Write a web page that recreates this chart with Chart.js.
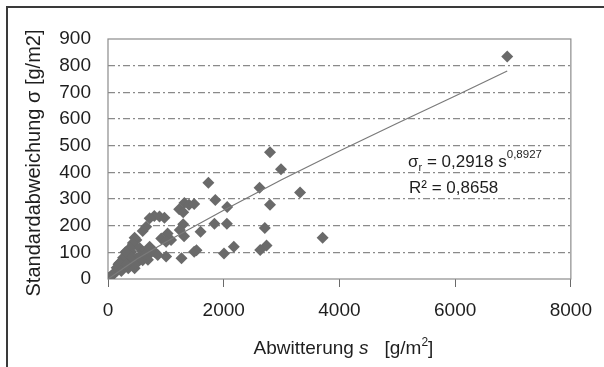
<!DOCTYPE html>
<html>
<head>
<meta charset="utf-8">
<script src="https://cdn.jsdelivr.net/npm/chart.js@4.4.0/dist/chart.umd.min.js"></script>
<style>
  html, body { margin: 0; padding: 0; background: #ffffff; }
  #wrap { position: relative; width: 604px; height: 367px; }
</style>
</head>
<body>
<div id="wrap"><canvas id="c" width="604" height="367"></canvas></div>
<script>
// Measured points: Abwitterung s [g/m²] and Standardabweichung σ [g/m²]
const abwitterung = [
  6900, 2800, 2990, 2620, 3320, 2800, 2710, 3710, 2740, 2630,
  1735, 1855, 2060, 1840, 2055, 2005, 2175, 1600, 1490, 1530,
  1270, 1005, 1230, 1320, 1400, 1490, 1300, 1300, 1315, 1240,
  800, 890, 975, 720, 660, 600, 1030, 920, 1090, 1005,
  490, 430, 550, 400, 600, 490, 720, 800, 860, 400,
  460, 350, 690, 460, 430, 380, 330,
  300, 250, 330, 280, 220, 200, 180, 150, 120, 100,
  80, 60, 40, 20, 10, 0, 350, 380, 260, 300,
  200, 150, 230, 320, 420, 500, 550, 600, 650, 700
];
const standardabweichung = [
  834, 475, 412, 342, 324, 278, 191, 155, 126, 109,
  361, 296, 270, 207, 207, 96, 121, 177, 102, 108,
  78, 84, 262, 285, 278, 281, 250, 205, 160, 184,
  236, 234, 230, 228, 196, 180, 171, 152, 146, 140,
  146, 128, 115, 102, 102, 78, 121, 102, 90, 59,
  40, 40, 72, 155, 135, 115, 105,
  75, 62, 90, 50, 45, 38, 55, 30, 25, 20,
  15, 12, 8, 5, 3, 2, 70, 85, 80, 100,
  60, 42, 30, 55, 80, 60, 85, 70, 95, 90
];
// Trend line
const trendS = [0, 500, 1000, 2000, 3000, 4000, 5000, 6000, 6900];
const trendSigma = [0, 75, 139, 258, 372, 480, 584, 686, 780];
const xTicks = [0, 2000, 4000, 6000, 8000];
const yTicks = [0, 100, 200, 300, 400, 500, 600, 700, 800, 900];

const FONT = "'Liberation Sans', Arial, Helvetica, sans-serif";
const TXT = '#1e1e1e';

const points = abwitterung.map((s, i) => ({ x: s, y: standardabweichung[i] }));
const trend = trendS.map((s, i) => ({ x: s, y: trendSigma[i] }));

const decor = {
  id: 'decor',
  beforeDraw(chart) {
    const ctx = chart.ctx;
    ctx.save();
    ctx.fillStyle = '#ffffff';
    ctx.fillRect(0, 0, chart.width, chart.height);
    ctx.fillStyle = '#3a3a3a';
    ctx.fillRect(6, 6, 2, chart.height - 6);
    ctx.fillRect(6, 6, chart.width - 6, 2);
    ctx.restore();
  },
  beforeDatasetsDraw(chart) {
    const a = chart.chartArea;
    const ctx = chart.ctx;
    ctx.save();
    ctx.strokeStyle = '#8c8c8c';
    ctx.lineWidth = 1.2;
    ctx.strokeRect(a.left, a.top, a.right - a.left, a.bottom - a.top);
    ctx.restore();
  },
  afterDraw(chart) {
    const ctx = chart.ctx;
    const a = chart.chartArea;
    ctx.save();
    ctx.fillStyle = TXT;
    ctx.textBaseline = 'alphabetic';
    // Y title
    ctx.save();
    ctx.translate(40, 163);
    ctx.rotate(-Math.PI / 2);
    ctx.font = '20px ' + FONT;
    ctx.textAlign = 'center';
    ctx.fillText('Standardabweichung σ [g/m2]', 0, 0);
    ctx.restore();
    // X title with italic s and superscript 2
    const parts = [
      { t: 'Abwitterung ', f: '19px ' + FONT, dy: 0 },
      { t: 's', f: 'italic 19px ' + FONT, dy: 0 },
      { t: '   [g/m', f: '19px ' + FONT, dy: 0 },
      { t: '2', f: '12px ' + FONT, dy: -8 },
      { t: ']', f: '19px ' + FONT, dy: 0 }
    ];
    let total = 0;
    parts.forEach(p => { ctx.font = p.f; p.w = ctx.measureText(p.t).width; total += p.w; });
    let x = (a.left + a.right) / 2 + 4 - total / 2;
    const by = 354;
    ctx.textAlign = 'left';
    parts.forEach(p => { ctx.font = p.f; ctx.fillText(p.t, x, by + p.dy); x += p.w; });
    // Equation
    const eq = [
      { t: 'σ', f: '17px ' + FONT, dy: 0 },
      { t: 'r', f: '11px ' + FONT, dy: 4 },
      { t: ' = 0,2918 s', f: '17px ' + FONT, dy: 0 },
      { t: '0,8927', f: '11.5px ' + FONT, dy: -9 }
    ];
    x = 408;
    eq.forEach(p => { ctx.font = p.f; ctx.fillText(p.t, x, 167 + p.dy); x += ctx.measureText(p.t).width; });
    ctx.font = '17px ' + FONT;
    ctx.fillText('R² = 0,8658', 409, 193);
    ctx.restore();
  }
};

new Chart(document.getElementById('c'), {
  type: 'scatter',
  data: {
    datasets: [
      {
        label: 'Trend',
        data: trend,
        showLine: true,
        borderColor: '#7a7a7a',
        borderWidth: 1.2,
        pointRadius: 0,
        fill: false
      },
      {
        label: 'Messwerte',
        data: points,
        pointStyle: 'rectRot',
        pointRadius: 6,
        pointBackgroundColor: '#6a6a6a',
        pointBorderColor: '#6a6a6a',
        pointBorderWidth: 0
      }
    ]
  },
  plugins: [decor],
  options: {
    responsive: false,
    animation: false,
    devicePixelRatio: 1,
    layout: { padding: { top: 39, right: 28, left: 0, bottom: 0 } },
    plugins: { legend: { display: false }, tooltip: { enabled: false } },
    scales: {
      x: {
        type: 'linear',
        min: 0, max: 8000,
        afterBuildTicks: s => { s.ticks = xTicks.map(v => ({ value: v })); },
        afterFit: s => { s.height = 88; },
        grid: {
          drawOnChartArea: false,
          drawTicks: true,
          tickLength: 8,
          color: '#6a6a6a',
          lineWidth: 1
        },
        border: { display: false },
        ticks: {
          color: TXT, font: { family: FONT, size: 19 }, padding: 12, maxRotation: 0,
          callback: v => String(v)
        }
      },
      y: {
        type: 'linear',
        min: 0, max: 900,
        afterBuildTicks: s => { s.ticks = yTicks.map(v => ({ value: v })); },
        afterFit: s => { s.width = 108; },
        grid: {
          drawTicks: false,
          color: ctx => (ctx.tick && (ctx.tick.value === 0 || ctx.tick.value === 900)) ? 'rgba(0,0,0,0)' : '#8a8a8a',
          lineWidth: 1.2
        },
        border: { display: false, dash: [7, 3, 2, 3] },
        ticks: { color: TXT, font: { family: FONT, size: 19 }, padding: 17, callback: v => String(v) }
      }
    }
  }
});
</script>
</body>
</html>
